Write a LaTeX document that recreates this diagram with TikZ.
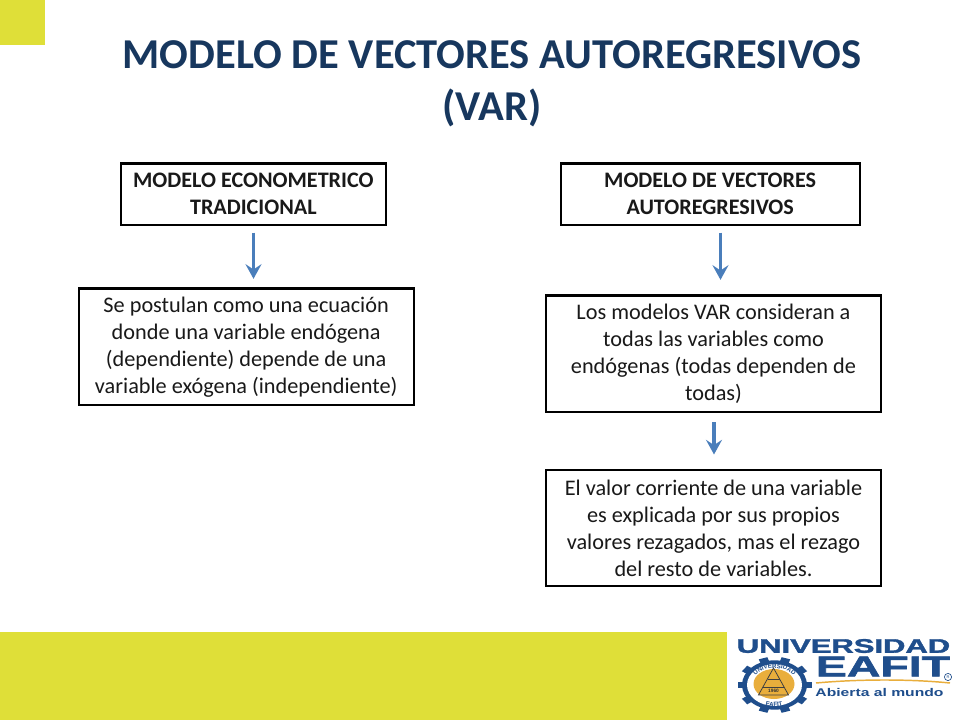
\documentclass[tikz,border=0pt]{standalone}
\usepackage{fontspec}
\setmainfont{Carlito}
\newfontfamily\logofont{Liberation Sans}
\newfontfamily\logoheavy[FakeBold=1.6]{Liberation Sans Bold}
\usetikzlibrary{arrows.meta,decorations.text}
\definecolor{titleblue}{HTML}{17375E}
\definecolor{bandyellow}{HTML}{DFDF38}
\definecolor{arrowblue}{HTML}{4A7EBB}
\definecolor{logoblue}{HTML}{1F4E8C}
\definecolor{logogold}{HTML}{E9AE3C}
\tikzset{
  pic px/.style={x=0.75pt,y=-0.75pt},
  flowbox/.style={draw=black,line width=1.7pt,fill=white,inner sep=0pt,align=center,anchor=north west,font=\fontsize{16.7}{20.2}\selectfont,text=black!90},
  headbox/.style={flowbox,font=\fontsize{16.6}{20.2}\selectfont\bfseries},
  flowarrow/.style={draw=arrowblue,line width=2.3pt,-{Stealth[length=11pt,width=12pt,inset=4pt]}},
  titletext/.style={text=titleblue,font=\fontsize{31.9}{39}\selectfont\bfseries,align=center},
  logotext/.style={text=logoblue,inner sep=0pt}
}
\begin{document}
\begin{tikzpicture}[pic px]
\useasboundingbox (0,0) rectangle (960,720);
\fill[white] (0,0) rectangle (960,720);
\fill[bandyellow] (0,0) rectangle (45,45);
\fill[bandyellow] (0,632) rectangle (727,720);
\node[titletext] (title) at (492,83.5) {MODELO DE VECTORES AUTOREGRESIVOS\\(VAR)};
\node[headbox,minimum width=199.1pt,minimum height=45.9pt] (m1) at (119.5,162.5) {MODELO ECONOMETRICO\\TRADICIONAL};
\node[headbox,minimum width=224.3pt,minimum height=45.9pt] (m2) at (559.5,162.5) {MODELO DE VECTORES\\AUTOREGRESIVOS};
\node[flowbox,minimum width=251.3pt,minimum height=87.5pt] (d1) at (77.5,287.5) {Se postulan como una ecuación\\donde una variable endógena\\(dependiente) depende de una\\variable exógena (independiente)};
\node[flowbox,minimum width=251pt,minimum height=87.5pt] (d2) at (545,294.5) {Los modelos VAR consideran a\\todas las variables como\\endógenas (todas dependen de\\todas)};
\node[flowbox,minimum width=251pt,minimum height=87.5pt] (d3) at (545,468.5) {El valor corriente de una variable\\es explicada por sus propios\\valores rezagados, mas el rezago\\del resto de variables.};
\coordinate (ax1) at (253.5,0);
\coordinate (ax2) at (720.5,0);
\coordinate (ax3) at (714,0);
\draw[flowarrow,shorten <=5pt,shorten >=6.5pt] (m1.south -| ax1) -- (d1.north -| ax1);
\draw[flowarrow,shorten <=5pt,shorten >=11pt] (m2.south -| ax2) -- (d2.north -| ax2);
\draw[flowarrow,shorten <=6.5pt,shorten >=10.5pt] (d2.south -| ax3) -- (d3.north -| ax3);
% logo
\node[logotext,xscale=1.58,font=\logoheavy\fontsize{14.7}{15}\selectfont] (l1) at (843.5,646) {UNIVERSIDAD};
\node[logotext,xscale=1.62,font=\logoheavy\fontsize{21.5}{22}\selectfont] (l2) at (883,666.5) {EAFIT};
\draw[logogold,line width=1.1pt] (816,683) .. controls (860,679) and (910,679) .. (950,683);
\node[logotext,xscale=1.4,font=\logofont\bfseries\fontsize{8.4}{9}\selectfont] (l3) at (879.5,692) {Abierta al mundo};
\draw[logoblue,line width=0.5pt] (948,677) circle (3.6);
\node[logotext,font=\logofont\fontsize{3}{3}\selectfont] (l4) at (948,677) {R};
\begin{scope}[shift={(774.5,685)},yscale=0.76]
  \foreach \a in {0,36,...,324}{
    \fill[logoblue,rotate=\a+18] (-4.5,-37) rectangle (4.5,-28);
  }
  \fill[logoblue] (0,0) circle (32.5);
  \fill[white] (0,0) circle (27.5);
\end{scope}
\fill[logogold] (774,684) ellipse (20.5 and 15);
\draw[black!75,line width=0.6pt] (773.5,668) -- (758.5,695) -- (788.5,695) -- cycle;
\draw[black!75,line width=0.6pt] (767.5,679) -- (779.5,679);
\draw[black!75,line width=0.6pt] (763,687) -- (784,687);
\node[text=black!80,inner sep=0pt,font=\logofont\bfseries\fontsize{3.6}{4}\selectfont] (l5) at (773.5,691) {1960};
\path[postaction={decorate,decoration={text along path,text align=center,text={|\logofont\bfseries\fontsize{4.6}{5}\selectfont\color{logoblue}|UNIVERSIDAD}}}] (751.5,686) arc[start angle=180,end angle=360,x radius=23,y radius=18];
\path[postaction={decorate,decoration={text along path,text align=center,text={|\logofont\bfseries\fontsize{4.6}{5}\selectfont\color{logoblue}|EAFIT}}}] (759,702) .. controls (765,708.5) and (783,708.5) .. (789,702);
\end{tikzpicture}
\end{document}
